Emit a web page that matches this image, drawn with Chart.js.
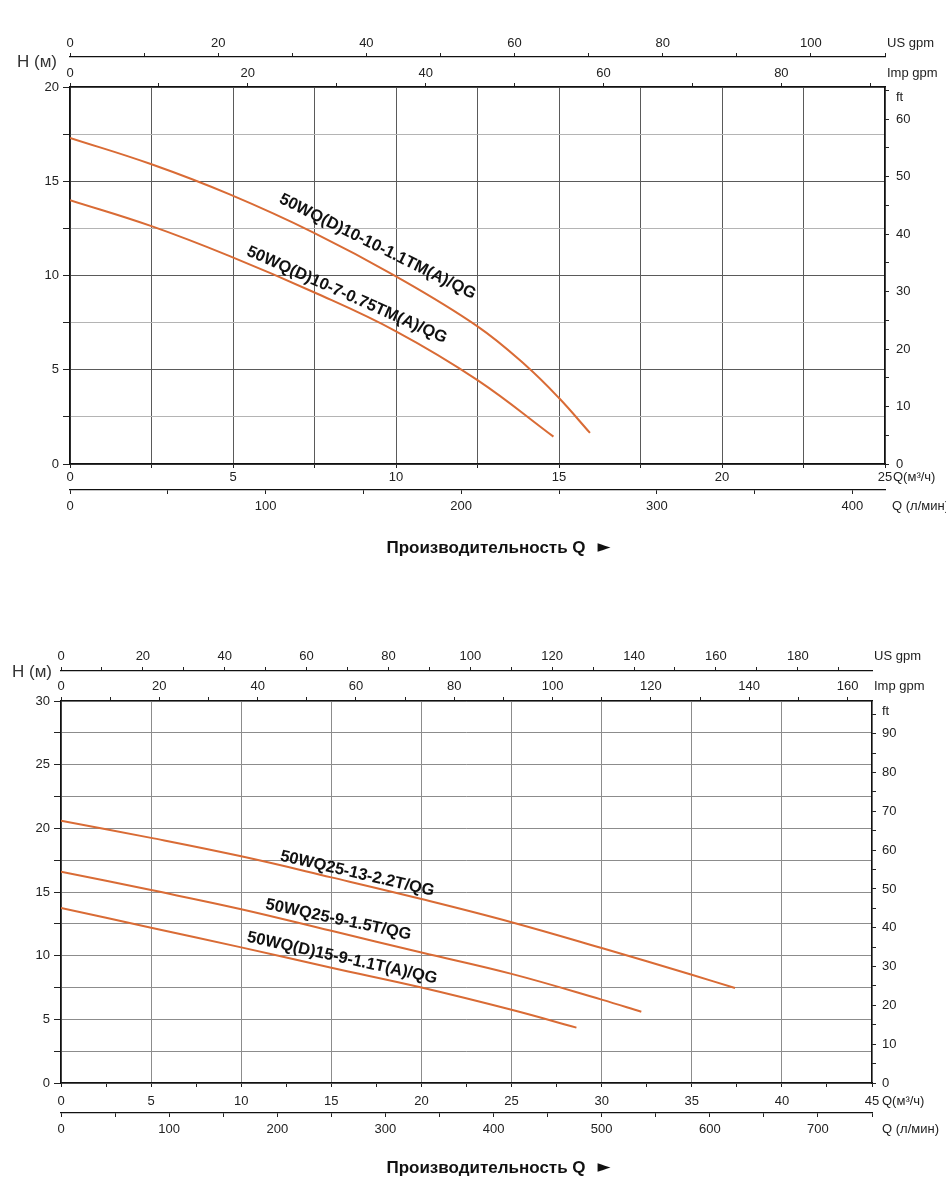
<!DOCTYPE html>
<html>
<head>
<meta charset="utf-8">
<script src="https://cdn.jsdelivr.net/npm/chart.js@4.4.1/dist/chart.umd.min.js"></script>
<style>
  html, body { margin: 0; padding: 0; background: #fff; }
  body { width: 946px; height: 1186px; position: relative; overflow: hidden; }
  canvas { position: absolute; left: 0; }
  #c1 { top: 0; }
  #c2 { top: 600px; }
</style>
</head>
<body>
<canvas id="c1" width="946" height="590"></canvas>
<canvas id="c2" width="946" height="586"></canvas>
<script>
// ---- data: Q in m³/h, H in m ----
// upper chart
const names1 = ['50WQ(D)10-10-1.1TM(A)/QG', '50WQ(D)10-7-0.75TM(A)/QG'];
const q1a = [0, 2.5, 4.9, 7.5, 10, 12.5, 14, 15, 15.95];
const h1a = [17.3, 15.9, 14.3, 12.25, 9.95, 7.3, 5.2, 3.5, 1.65];
const q1b = [0, 2.5, 4.9, 7.5, 10, 12.5, 14.83];
const h1b = [14.0, 12.62, 11.03, 9.1, 7.04, 4.45, 1.45];

// lower chart
const names2 = ['50WQ25-13-2.2T/QG', '50WQ25-9-1.5T/QG', '50WQ(D)15-9-1.1T(A)/QG'];
const q2a = [0, 5, 10, 15, 20, 25, 30, 35, 37.4];
const h2a = [20.6, 19.25, 17.8, 16.15, 14.45, 12.63, 10.6, 8.5, 7.46];
const q2b = [0, 5, 10, 15, 20, 25, 30, 32.2];
const h2b = [16.6, 15.15, 13.65, 11.95, 10.25, 8.57, 6.55, 5.6];
const q2c = [0, 5, 10, 15, 20, 25, 28.6];
const h2c = [13.75, 12.2, 10.65, 9.05, 7.5, 5.75, 4.35];

// axis ranges (main axes) and unit conversions for the secondary axes
const qMax1 = 25, hMax1 = 20;
const qMax2 = 45, hMax2 = 30;
const LMIN_PER_M3H = 1000 / 60;
const LMIN_PER_USG = 3.78541;
const LMIN_PER_IMPG = 4.54609;
const FT_PER_M = 3.28084;

const FONT = '"Liberation Sans", Arial, Helvetica, sans-serif';
Chart.defaults.font.family = FONT;
Chart.defaults.font.size = 13;
Chart.defaults.color = '#222';

const CURVE = '#d96b35';

// tolerant test: tick values may be stretched a hair to fit the axis end
function isMult(v, n) {
  return Math.abs(v / n - Math.round(v / n)) < 0.01;
}
function tickText(v, n) {
  return isMult(v, n) ? String(Math.round(v / n) * n) : '';
}

function pairs(qs, hs) {
  return qs.map((q, i) => ({ x: q, y: hs[i] }));
}

// horizontal axis helper
function hAxis(position, weight, max, step, labelStep, o) {
  return {
    type: 'linear', axis: 'x', position, weight, min: 0, max,
    afterFit: s => { s.height = o.h; },
    border: { display: true, color: '#111', width: o.bw || 1.3 },
    grid: {
      drawOnChartArea: !!o.grid, color: o.grid || '#000', tickColor: '#222',
      tickLength: 4, lineWidth: 1
    },
    ticks: {
      stepSize: step, includeBounds: false, autoSkip: false, maxRotation: 0, minRotation: 0,
      padding: o.pad,
      callback: v => tickText(v, labelStep)
    }
  };
}

const labelPlugin = {
  id: 'pumpText',
  afterDraw(chart, args, o) {
    const { ctx, chartArea: a, scales } = chart;
    const lh = 13 * 1.2 / 2;
    ctx.save();
    ctx.fillStyle = '#222';
    ctx.font = '13px ' + FONT;
    ctx.textBaseline = 'middle';
    ctx.textAlign = 'left';
    const us = scales.us, imp = scales.imp, x = scales.x, lmin = scales.lmin, ft = scales.ft;
    const topY = s => s.bottom - s.options.grid.tickLength - s.options.ticks.padding - lh;
    const botY = s => s.top + s.options.grid.tickLength + s.options.ticks.padding + lh;
    ctx.fillText('US gpm', a.right + 2, topY(us));
    ctx.fillText('Imp gpm', a.right + 2, topY(imp));
    ctx.fillText('Q(м³/ч)', a.right + o.qDx, botY(x));
    ctx.fillText('Q (л/мин)', a.right + o.lDx, botY(lmin));
    ctx.fillText('ft', ft.left + ft.options.grid.tickLength + ft.options.ticks.padding, a.top + 10);

    // H (м)
    ctx.fillStyle = '#333';
    ctx.font = '17px "Liberation Sans Narrow", "Arial Narrow", ' + FONT;
    ctx.textAlign = 'right';
    ctx.fillText('H (м)', a.left - o.hDx, us.bottom + o.hDy);

    // title
    ctx.fillStyle = '#111';
    ctx.font = 'bold 17px ' + FONT;
    ctx.textAlign = 'center';
    ctx.fillText('Производительность Q', 486, o.titleY);
    ctx.font = '17px "DejaVu Sans", ' + FONT;
    ctx.fillText('►', 604, o.titleY);

    // curve names
    ctx.font = 'bold 16.5px ' + FONT;
    for (const l of o.curveLabels) {
      ctx.save();
      ctx.translate(x.getPixelForValue(l.q), scales.y.getPixelForValue(l.h));
      ctx.rotate(l.angle * Math.PI / 180);
      ctx.fillText(l.text, 0, 0);
      ctx.restore();
    }
    ctx.restore();
  }
};

function makeChart(id, cfg) {
  const qMax = cfg.qMax, hMax = cfg.hMax;
  const lMax = qMax * LMIN_PER_M3H;
  return new Chart(document.getElementById(id), {
    type: 'scatter',
    data: {
      datasets: cfg.series.map(s => ({
        label: s.name,
        data: pairs(s.q, s.h),
        showLine: true,
        borderColor: CURVE,
        borderWidth: 2,
        pointRadius: 0,
        tension: 0.4
      }))
    },
    plugins: [labelPlugin],
    options: {
      responsive: false,
      animation: false,
      events: [],
      layout: { padding: cfg.padding },
      plugins: {
        legend: { display: false },
        tooltip: { enabled: false },
        pumpText: cfg.text
      },
      scales: {
        x: hAxis('bottom', 0, qMax, 2.5, 5, { h: cfg.xH, pad: cfg.xPad, grid: cfg.xGrid, bw: 1.6 }),
        lmin: hAxis('bottom', 1, lMax, 50, 100, { h: 30, pad: cfg.lPad }),
        imp: hAxis('top', 0, lMax / LMIN_PER_IMPG, 10, 20, { h: 30, pad: cfg.impPad }),
        us: hAxis('top', 1, lMax / LMIN_PER_USG, 10, 20, { h: cfg.usH, pad: cfg.usPad }),
        y: {
          type: 'linear', axis: 'y', position: 'left', min: 0, max: hMax,
          afterFit: s => { s.width = cfg.left; },
          border: { display: true, color: '#111', width: 1.6 },
          grid: { color: cfg.yGrid, tickColor: '#222', tickLength: 7, lineWidth: 1 },
          ticks: {
            stepSize: 2.5, includeBounds: false, autoSkip: false, padding: 4,
            callback: v => tickText(v, 5)
          }
        },
        ft: {
          type: 'linear', axis: 'y', position: 'right', min: 0, max: hMax * FT_PER_M,
          afterFit: s => { s.width = 946 - cfg.right; },
          border: { display: true, color: '#111', width: 1.3 },
          grid: { drawOnChartArea: false, tickColor: '#222', tickLength: 4 },
          ticks: {
            stepSize: 5, includeBounds: false, autoSkip: false, padding: cfg.ftPad,
            callback: (v, i, t) => i === t.length - 1 ? '' : tickText(v, 10)
          }
        }
      }
    }
  });
}

makeChart('c1', {
  qMax: qMax1, hMax: hMax1,
  padding: { top: 20, bottom: 70, left: 0, right: 0 },
  left: 70, right: 885,
  usH: 37, usPad: 2, impPad: 2, xH: 26, xPad: 2, lPad: 5, ftPad: 7,
  xGrid: '#5a5a5a',
  yGrid: c => isMult(c.tick.value, 5) ? '#5a5a5a' : '#b4b4b4',
  series: [
    { name: names1[0], q: q1a, h: h1a },
    { name: names1[1], q: q1b, h: h1b }
  ],
  text: {
    qDx: 8, lDx: 7, hDx: 13, hDy: 5, titleY: 548,
    curveLabels: [
      { text: names1[0], q: 9.43, h: 11.53, angle: 26.5 },
      { text: names1[1], q: 8.49, h: 8.97, angle: 24 }
    ]
  }
});

makeChart('c2', {
  qMax: qMax2, hMax: hMax2,
  padding: { top: 30, bottom: 43, left: 0, right: 0 },
  left: 61, right: 872,
  usH: 41, usPad: 3, impPad: 2.5, xH: 30, xPad: 6.5, lPad: 4.5, ftPad: 6,
  xGrid: c => isMult(c.tick.value, 5) ? '#8c8c8c' : 'rgba(0,0,0,0)',
  yGrid: '#8c8c8c',
  series: [
    { name: names2[0], q: q2a, h: h2a },
    { name: names2[1], q: q2b, h: h2b },
    { name: names2[2], q: q2c, h: h2c }
  ],
  text: {
    qDx: 10, lDx: 10, hDx: 9, hDy: 1, titleY: 568,
    curveLabels: [
      { text: names2[0], q: 16.44, h: 16.43, angle: 13 },
      { text: names2[1], q: 15.39, h: 12.82, angle: 12 },
      { text: names2[2], q: 15.6, h: 9.81, angle: 12.5 }
    ]
  }
});
</script>
</body>
</html>
